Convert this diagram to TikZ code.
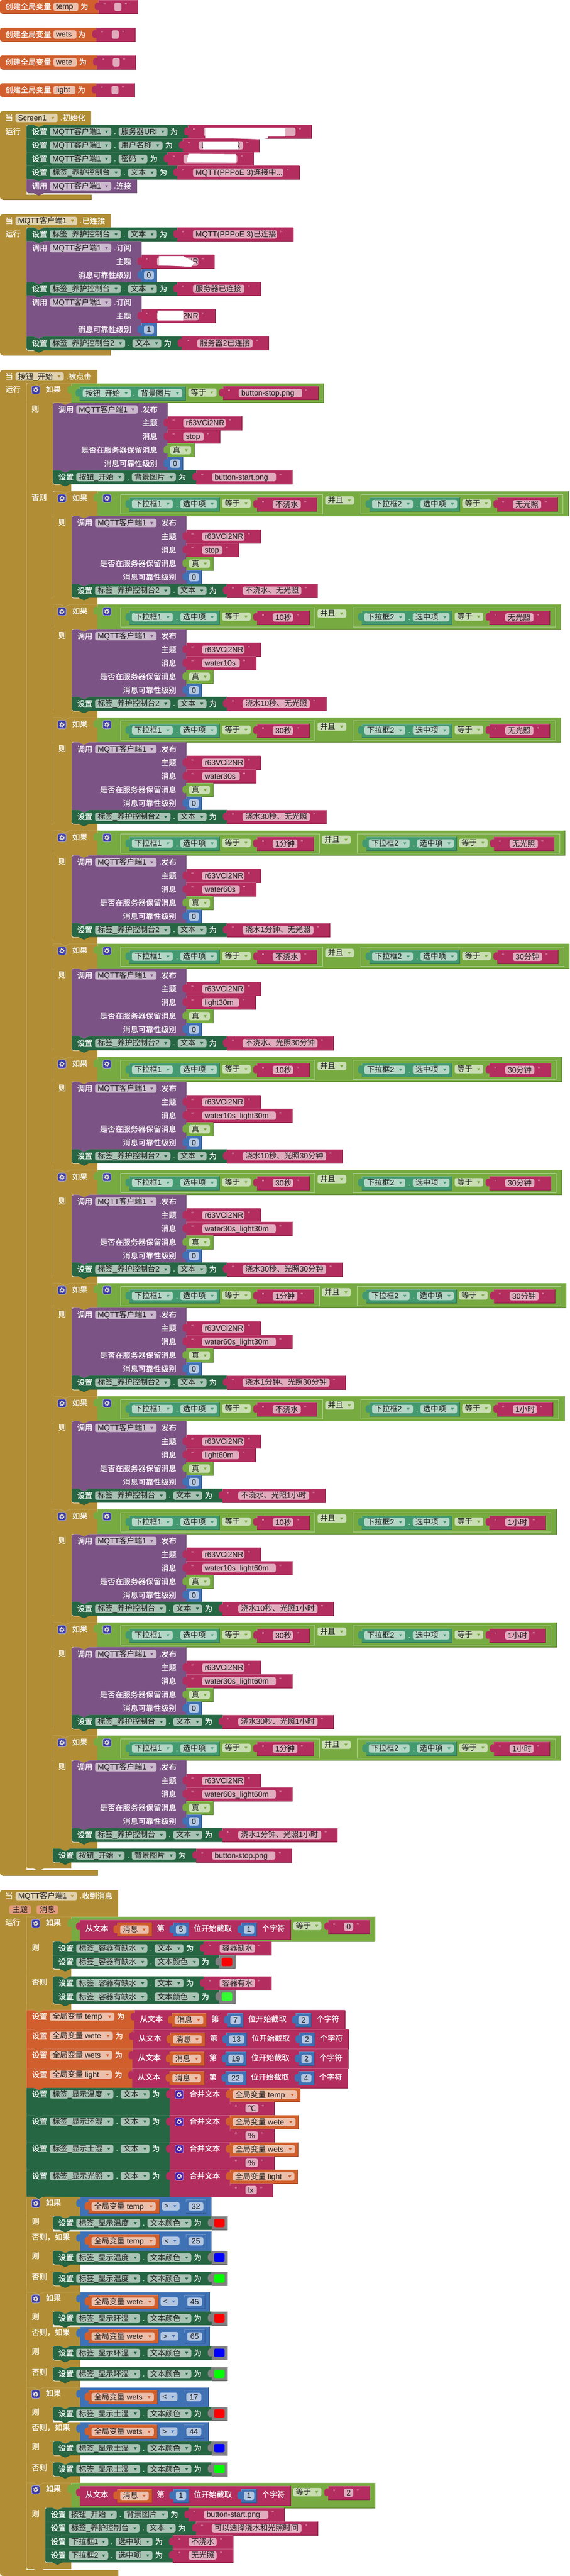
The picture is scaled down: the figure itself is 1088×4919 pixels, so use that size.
\documentclass[tikz,border=0pt]{standalone}
\usepackage{fontspec}
\setmainfont{Liberation Sans}
\newfontfamily\cjkf{Noto Sans CJK SC}
\newfontfamily\cjkb{Noto Sans CJK SC}[FakeBold=0.4]
\XeTeXinterchartokenstate=1
\newXeTeXintercharclass\cjkc
\newcount\cc
\def\setrange#1#2{\cc=#1\loop\XeTeXcharclass\cc=\cjkc\ifnum\cc<#2\advance\cc by 1\repeat}
\setrange{"3000}{"30FF}\setrange{"4E00}{"9FFF}\setrange{"FF00}{"FFEF}\setrange{"2103}{"2103}
\XeTeXinterchartoks 0 \cjkc={\begingroup\cjkf}
\XeTeXinterchartoks 4095 \cjkc={\begingroup\cjkf}
\XeTeXinterchartoks \cjkc 0={\endgroup}
\XeTeXinterchartoks \cjkc 4095={\endgroup}
\definecolor{cset}{HTML}{266643}
\definecolor{cproc}{HTML}{7C5385}
\definecolor{cstr}{HTML}{B32D5E}
\definecolor{cgold}{HTML}{B18E35}
\definecolor{clogic}{HTML}{77AB41}
\definecolor{cmath}{HTML}{3F71B5}
\definecolor{cget}{HTML}{439970}
\definecolor{cvar}{HTML}{D05F2D}
\definecolor{cgray}{HTML}{808080}
\definecolor{txc}{HTML}{1A1A1A}
\definecolor{gearA}{HTML}{3A3AA8}
\definecolor{gearB}{HTML}{4A1DB0}
\definecolor{gearc}{HTML}{E4E0C8}
\definecolor{swr}{HTML}{FF0000}
\definecolor{swb}{HTML}{0000FF}
\definecolor{swg}{HTML}{00FF00}
\definecolor{swl}{HTML}{33FF33}
\tikzset{
  tx/.style={inner sep=0pt,outer sep=0pt,font=\fontsize{14.6pt}{16pt}\selectfont},
  qt/.style={inner sep=0pt,outer sep=0pt,font=\fontsize{12pt}{13pt}\selectfont},
  ew/.style={line width=0.5pt},
  fieldbox/.style={rounded corners=3.5pt}
}
\newcount\tn
\newcommand\txt[4]{\global\advance\tn by 1\relax\node[tx,text=#1,anchor=base west] (t\the\tn) at (#2,#3) {#4};}
\newcommand\Lab[3]{\txt{white}{#1}{#2+5}{\let\cjkf\cjkb #3}}
\newcommand\Rlab[3]{\global\advance\tn by 1\relax\node[tx,text=white,anchor=base east] (t\the\tn) at (#1,#2+5) {\let\cjkf\cjkb #3};}
\newcommand\Ctr[3]{\global\advance\tn by 1\relax\node[tx,text=txc,anchor=base] (t\the\tn) at (#1,#2+5) {#3};}
% x y w h col flag
\newcommand\stmt[6]{%
 \pgfmathsetmacro\sR{#1+#3}\pgfmathsetmacro\sBt{#2+#4}%
 \ifodd#6\relax\def\sTL{(#1,#2+4) .. controls +(0,-2.2) and +(-2.2,0) .. ++(4,-4) -- ++(10,0)}\fill[cgold] (#1+14,#2-0.5) -- ++(19,0) -- ++(-9.5,5.5) -- cycle;\else\def\sTL{(#1,#2) -- ++(14,0)}\fi
 \ifnum#6>1\relax\def\sBL{-- (#1+4,\sBt) .. controls +(-2.2,0) and +(0,2.2) .. ++(-4,-4)}\else\def\sBL{-- (#1,\sBt)}\fi
 \fill[#5] \sTL -- ++(9.5,4.5) -- ++(9.5,-4.5) -- (\sR,#2) -- (\sR,\sBt) -- (#1+33,\sBt) -- ++(-9.5,4.5) -- ++(-9.5,-4.5) \sBL -- cycle;
 \draw[#5!75!white,ew] \sTL -- ++(9.5,4.5) -- ++(9.5,-4.5) -- (\sR,#2);
 \draw[#5!75!white,ew] (#1,#2+4) -- (#1,\sBt-4);
 \draw[#5!75!black,ew] (\sR,#2) -- (\sR,\sBt) -- (#1+33,\sBt) -- ++(-9.5,4.5) -- ++(-9.5,-4.5) \sBL;
 \ifnum#6>1\relax\draw[white!75!cgold,line width=1pt] (#1,\sBt-3) .. controls +(0,2) and +(-2,0) .. ++(4,4) -- ++(10,0);\fi
}
\newcommand\gold[5]{%
 \pgfmathsetmacro\sR{#1+#3}\pgfmathsetmacro\sBt{#2+#4}%
 \ifodd#5\relax\def\sTL{(#1,#2+4) .. controls +(0,-2.2) and +(-2.2,0) .. ++(4,-4) -- ++(10,0)}\fill[cgold] (#1+14,#2-0.5) -- ++(19,0) -- ++(-9.5,5.5) -- cycle;\else\def\sTL{(#1,#2) -- ++(14,0)}\fi
 \ifnum#5>1\relax\def\sBL{-- (#1+4,\sBt) .. controls +(-2.2,0) and +(0,2.2) .. ++(-4,-4)}\else\def\sBL{-- (#1,\sBt)}\fi
 \fill[cgold] \sTL -- ++(9.5,4.5) -- ++(9.5,-4.5) -- (\sR,#2) -- (\sR,\sBt) -- (#1+33,\sBt) -- ++(-9.5,4.5) -- ++(-9.5,-4.5) \sBL -- cycle;
 \draw[cgold!70!white,ew] (#1,#2+3) -- (#1,\sBt-3);
 \draw[cgold!70!white,ew] \sTL -- ++(9.5,4.5) -- ++(9.5,-4.5) -- (\sR,#2);
}
% bar: no notch; x y w h flag(2=rounded bottom)
\newcommand\goldbar[5]{%
 \pgfmathsetmacro\sR{#1+#3}\pgfmathsetmacro\sBt{#2+#4}%
 \ifnum#5>1\relax\def\sBL{-- (#1+4,\sBt) .. controls +(-2.2,0) and +(0,2.2) .. ++(-4,-4)}\else\def\sBL{-- (#1,\sBt)}\fi
 \fill[cgold] (#1,#2) -- (\sR,#2) -- (\sR,\sBt) -- (#1+33,\sBt) -- ++(-9.5,4.5) -- ++(-9.5,-4.5) \sBL -- cycle;
 \ifnum#5>1\relax\draw[white!75!cgold,line width=1pt] (#1,\sBt-3) .. controls +(0,2) and +(-2,0) .. ++(4,4) -- ++(10,0);\fi
}
\newcommand\hatblock[5]{% ytop ybody yfoot yend w
 \fill[cgold] (0,#1+5) .. controls +(0,-2.7) and +(-2.7,0) .. ++(5,-5) -- (#5,#1) -- (#5,#2) -- (50.5,#2) -- (50.5,#3) -- (#5,#3) -- (#5,#4) -- (5,#4) .. controls +(-2.7,0) and +(0,2.7) .. ++(-5,-5) -- cycle;
 \draw[cgold!75!black,ew] (#5,#3) -- (#5,#4) -- (5,#4);
}
\newcommand\val[5]{%
 \pgfmathsetmacro\vR{#1+#3}\pgfmathsetmacro\vB{#2+#4}%
 \fill[#5] (#1,#2+5) .. controls +(-2.5,-1.5) and +(0,-7) .. ++(-7.5,7) .. controls +(0,7) and +(-4.5,1.5) .. ++(7.5,7) -- (#1,\vB) -- (\vR,\vB) -- (\vR,#2) -- (#1,#2) -- cycle;
 \draw[#5!75!white,ew] (#1,#2) -- (\vR,#2);
 \draw[#5!75!white,ew] (#1,#2) -- (#1,#2+5);
 \draw[#5!75!black,ew] (\vR,#2) -- (\vR,\vB) -- (#1,\vB);
}
% x cy w col text
\newcommand\fld[5]{%
 \fill[#4!40!white,fieldbox] (#1,#2-8) rectangle ++(#3,16);
 \txt{txc}{#1+5}{#2+5}{#5}%
 \fill[#4] (#1+#3-12,#2-2) -- ++(6,0) -- ++(-3,4.5) -- cycle;
}
\newcommand\fldn[5]{%
 \fill[#4!40!white,fieldbox] (#1,#2-8) rectangle ++(#3,16);
 \txt{txc}{#1+5}{#2+5}{#5}%
}
\newcommand\gear[3]{%
 \filldraw[fill=#3,draw=#3!45!white,line width=1pt,rounded corners=3pt] (#1-7.8,#2-7.8) rectangle ++(15.6,15.6);
 \draw[gearc,line width=1.6pt] (#1,#2) circle (3pt);
 \draw[gearc,line width=1.6pt,dash pattern=on 1.8pt off 1.73pt] (#1,#2) circle (4.5pt);
}
% m y fieldw text
\newcommand\strv[4]{%
 \pgfmathsetmacro\qE{#3+61}%
 \val{#1}{#2}{\qE}{26}{cstr}%
 \fill[cstr!40!white,fieldbox] (#1+30,#2+5) rectangle ++(#3,16);
 \txt{txc}{#1+35}{#2+18}{#4}%
 \global\advance\tn by 1\relax\node[qt,text=cstr!30!white,anchor=base west] (t\the\tn) at (#1+9.5,#2+15) {“};
 \global\advance\tn by 1\relax\node[qt,text=cstr!30!white,anchor=base west] (t\the\tn) at (#1+36.5+#3,#2+15) {”};
}
% m y w text
\newcommand\numv[4]{%
 \val{#1}{#2}{#3}{26}{cmath}%
 \fill[cmath!40!white,fieldbox] (#1+5,#2+5) rectangle ++(#3-10,16);
 \Ctr{#1+#3/2}{#2+13}{#4}%
}
\newcommand\truev[2]{\val{#1}{#2}{51}{26}{clogic}\fld{#1+5}{#2+13}{40}{clogic}{真}}
\newcommand\colv[3]{%
 \val{#1}{#2}{30}{26}{cgray}%
 \fill[#3,rounded corners=3pt] (#1+4.5,#2+4.7) rectangle ++(20,16);
}
% x y w fieldw text
\newcommand\getv[5]{\val{#1}{#2}{#3}{26}{cvar}\fld{#1+5.5}{#2+13}{#4}{cvar}{#5}}
% x y h w1 t1 w2 t2 flag
\newcommand\setrow[8]{%
 \pgfmathsetmacro\mx{#1+#4+#6+97.5}%
 \ifdim#3pt>30pt\pgfmathsetmacro\cy{#2+12.3}\else\pgfmathsetmacro\cy{#2+13}\fi
 \stmt{#1}{#2}{\mx-#1}{#3}{cset}{#8}%
 \Lab{#1+10.5}{\cy}{设置}%
 \fld{#1+44.5}{\cy}{#4}{cset}{#5}%
 \Lab{#1+49.5+#4}{\cy}{.}%
 \fld{#1+58.5+#4}{\cy}{#6}{cset}{#7}%
 \Lab{#1+63.5+#4+#6}{\cy}{为}%
}
% x y h w1 t1 flag
\newcommand\setg[6]{%
 \pgfmathsetmacro\mx{#1+#4+83}%
 \pgfmathsetmacro\cy{#2+12}%
 \stmt{#1}{#2}{\mx-#1}{#3}{cvar}{#6}%
 \Lab{#1+10.5}{\cy}{设置}%
 \fld{#1+44.5}{\cy}{#4}{cvar}{#5}%
 \Lab{#1+49.5+#4}{\cy}{为}%
}
% x y msgw msg flag
\newcommand\pub[5]{%
 \pgfmathsetmacro\pR{#1+219}\pgfmathsetmacro\pT{#1+200}%
 \stmt{#1}{#2}{219}{129.25}{cproc}{#5}%
 \Lab{#1+10.5}{#2+13}{调用}%
 \fld{#1+44.5}{#2+13}{117.5}{cproc}{MQTT客户端1}%
 \Lab{#1+167}{#2+13}{.}\Lab{#1+171}{#2+13}{发布}%
 \Rlab{\pT}{#2+38.85}{主题}\strv{\pR}{#2+25.85}{81}{r63VCi2NR}%
 \Rlab{\pT}{#2+64.7}{消息}\strv{\pR}{#2+51.7}{#3}{#4}%
 \Rlab{\pT}{#2+90.55}{是否在服务器保留消息}\truev{\pR}{#2+77.55}%
 \Rlab{\pT}{#2+116.4}{消息可靠性级别}\numv{\pR}{#2+103.4}{29}{0}%
}
% y text-of-qos
\newcommand\subsc[4]{% x y qos flag
 \pgfmathsetmacro\pR{#1+219.5}\pgfmathsetmacro\pT{#1+200.5}%
 \stmt{#1}{#2}{219.5}{78}{cproc}{#4}%
 \Lab{#1+10.5}{#2+13}{调用}%
 \fld{#1+44.5}{#2+13}{117.5}{cproc}{MQTT客户端1}%
 \Lab{#1+167}{#2+13}{.}\Lab{#1+171.5}{#2+13}{订阅}%
 \Rlab{\pT}{#2+39}{主题}%
 \Rlab{\pT}{#2+65}{消息可靠性级别}\numv{\pR}{#2+52}{29}{#3}%
}
% L yr k w s
\newcommand\eqbl[5]{%
 \pgfmathsetmacro\eqE{#1+332.7+#4}%
 \pgfmathsetmacro\eW{332.7+#4}%
 \val{#1}{#2+6}{\eW}{37.5}{clogic}%
 \draw[clogic!55!white,ew] (#1,#2+6) rectangle ++(\eW,37.5);
 \val{#1+17}{#2+12}{172.5}{26}{cget}%
 \fld{#1+22}{#2+24.5}{78}{cget}{下拉框#3}%
 \Lab{#1+106}{#2+25}{.}%
 \fld{#1+114.4}{#2+24.5}{70}{cget}{选中项}%
 \fld{#1+194.3}{#2+23.5}{54.7}{clogic}{等于}%
 \strv{#1+261}{#2+12}{#4}{#5}%
}
% yr wa sa wb sb mw ms tw ; uses \bfl, \cw, \ct, \bT
\newcommand\branch[8]{%
 \gold{101}{#1}{36}{216}{\bfl}%
 \gold{101}{#1}{85}{47.7}{\bfl}%
 \goldbar{101}{#1+203.2}{85}{12.8}{0}%
 \gear{118.3}{#1+13.7}{gearA}%
 \Lab{138}{#1+13}{如果}%
 \Lab{111.7}{#1+59.7}{则}%
 \pgfmathsetmacro\bL{230+332.7+#2}%
 \pgfmathsetmacro\bM{\bL+5}\pgfmathsetmacro\bN{\bM+67.6}%
 \pgfmathsetmacro\bEnd{\bN+332.7+#4+10.5}\pgfmathsetmacro\bW{\bEnd-186}%
 \val{186}{#1}{\bW}{47.7}{clogic}%
 \gear{204.3}{#1+13.7}{gearA}%
 \eqbl{230}{#1}{1}{#2}{#3}%
 \fld{\bM}{#1+17.7}{55}{clogic}{并且}%
 \eqbl{\bN}{#1}{2}{#4}{#5}%
 \pub{137}{#1+47.7}{#6}{#7}{1}%
 \setrow{137}{#1+176.95}{26.25}{\cw}{\ct}{55}{文本}{2}%
 \edef\bmm{\mx}\edef\byy{#1+176.95}%
 \strv{\bmm}{\byy}{#8}{\bT}%
}
% m y w1 t1
\newcommand\subs[4]{%
 \pgfmathsetmacro\rR{#1+178.3+#3}\pgfmathsetmacro\rE{#3+372.8}%
 \val{#1}{#2}{\rE}{37}{cstr}%
 \Lab{#1+10.3}{#2+16.7}{从文本}%
 \getv{#1+71.3}{#2+5.7}{66.4}{54.6}{消息}%
 \Lab{#1+147}{#2+16.7}{第}%
 \numv{#1+178.3}{#2+5.7}{#3}{#4}%
 \Lab{\rR+9.5}{#2+16.7}{位开始截取}%
 \Lab{\rR+140}{#2+16.7}{个字符}%
}
\newcommand\subsB[2]{\numv{\rR+100.5}{#2+5.7}{29.5}{#1}}
% y num1 num2 str
\newcommand\condA[4]{%
 \gold{50.5}{#1}{85.5}{47.7}{0}%
 \val{136}{#1}{580}{47.7}{clogic}%
 \gear{68.3}{#1+13.3}{gearA}%
 \Lab{87.3}{#1+11.5}{如果}%
 \subs{152.7}{#1+6}{29.5}{#2}\subsB{#3}{#1+6}%
 \fld{560}{#1+17.7}{54}{clogic}{等于}%
 \strv{627}{#1+6}{17.8}{#4}%
}
% y end getw fieldw var opx op num
\newcommand\cmpc[8]{%
 \pgfmathsetmacro\cW{#2-153}%
 \val{153}{#1}{\cW}{37}{cmath}%
 \getv{169.3}{#1+5.3}{#3}{#4}{全局变量 #5}%
 \fld{#6}{#1+17.7}{34}{cmath}{#7}%
 \numv{#6+46}{#1+5.3}{38.5}{#8}%
}
\newcommand\triple[9]{%
 \gold{50.5}{#1}{50.5}{181.7}{0}%
 \gold{50.5}{#1}{102.5}{37}{0}%
 \goldbar{50.5}{#1+66.3}{102.5}{36.7}{0}%
 \goldbar{50.5}{#1+129}{102.5}{14}{0}%
 \goldbar{50.5}{#1+169}{102.5}{12.7}{0}%
 \gear{68.3}{#1+12.7}{gearA}\Lab{87.3}{#1+11}{如果}%
 \Lab{60.8}{#1+47}{则}\Lab{60.8}{#1+76.7}{否则，如果}%
 \Lab{60.8}{#1+113}{则}\Lab{60.8}{#1+153.3}{否则}%
 \cmpc{#1}{#2}{#3}{#4}{#5}{#6}{#7}{#8}%
 \cmpc{#1+66.3}{#2}{#3}{#4}{#5}{#6}{\opB}{#9}%
 \setrow{101}{#1+37}{26}{122}{\lblT}{84}{文本颜色}{3}\colv{\mx}{#1+37}{swr}%
 \setrow{101}{#1+103}{26}{122}{\lblT}{84}{文本颜色}{3}\colv{\mx}{#1+103}{swb}%
 \setrow{101}{#1+143}{26}{122}{\lblT}{84}{文本颜色}{3}\colv{\mx}{#1+143}{swg}%
}
\newcommand\globalv[4]{% y m fw name
 \fill[cvar] (0,#1+4) .. controls +(0,-2.2) and +(-2.2,0) .. ++(4,-4) -- (#2,#1) -- (#2,#1+26) -- (4,#1+26) .. controls +(-2.2,0) and +(0,2.2) .. ++(-4,-4) -- cycle;
 \draw[cvar!75!black,ew] (4,#1+26) -- (#2,#1+26);
 \Lab{10.3}{#1+13}{创建全局变量}%
 \fldn{102.2}{#1+13}{#3}{cvar}{#4}%
 \Lab{#2-34.4}{#1+13}{为}%
 \strv{#2}{#1}{13.4}{}%
}
\newcommand\joinrow[7]{% y lbl getw fieldw var strw str
 \setrow{50.5}{#1}{52}{121.7}{#2}{55}{文本}{0}%
 \edef\jm{\mx}%
 \val{\jm}{#1}{114.5}{52}{cstr}%
 \gear{\jm+17.7}{#1+12.7}{gearB}%
 \Lab{\jm+37.3}{#1+12}{合并文本}%
 \getv{439}{#1}{#3}{#4}{全局变量 #5}%
 \strv{439}{#1+26}{#6}{#7}%
}
\newcommand\setstr[9]{\setrow{#1}{#2}{#3}{#4}{#5}{#6}{#7}{#8}\strv{\mx}{#2}{#9}{\strT}}
\begin{document}
\begin{tikzpicture}[x=1pt,y=-1pt]
\useasboundingbox (0,0) rectangle (1088,4919);
\fill[white] (0,0) rectangle (1088,4919);
% globals
\globalv{0}{188.4}{47.3}{temp}
\globalv{53}{183.5}{43.8}{wets}
\globalv{106}{185.3}{44.6}{wete}
\globalv{159}{183}{42}{light}
% Screen1
\hatblock{212}{238.6}{371.5}{381.5}{174}
\Lab{10.3}{225.3}{当}\fld{29.5}{225.3}{80.4}{cgold}{Screen1}\Lab{115}{225.3}{.}\Lab{119.6}{225.3}{初始化}
\Lab{10.3}{251}{运行}
\def\strT{}\setstr{50.5}{238.6}{26}{117.5}{MQTT客户端1}{93.7}{服务器URI}{1}{175.4}
\def\strT{L}\setstr{50.5}{264.6}{26}{117.5}{MQTT客户端1}{84}{用户名称}{0}{84.8}
\def\strT{}\setstr{50.5}{290.6}{26}{117.5}{MQTT客户端1}{55}{密码}{0}{102.8}
\def\strT{MQTT(PPPoE 3)连接中...}\setstr{50.5}{316.6}{26}{135.7}{标签\_养护控制台}{55}{文本}{0}{172.3}
\stmt{50.5}{342.6}{211.1}{26}{cproc}{2}
\Lab{61}{355.6}{调用}\fld{95}{355.6}{117.5}{cproc}{MQTT客户端1}\Lab{217.5}{355.6}{.}\Lab{222}{355.6}{连接}
\fill[white] (392,245) -- (545,245) -- (545,260.5) -- (512,260.5) -- (512,264) -- (495,266) -- (440,264) -- (392,264) -- cycle;
\node[tx,text=txc,anchor=base east] (userR) at (459,282.6) {R};
\fill[white] (387.5,270) -- (455,270) -- (455,284.5) -- (387.5,284.5) -- cycle;
\fill[white] (360,293.5) -- (451,294.5) -- (451,310.5) -- (357,309) -- cycle;
% MQTT connected
\hatblock{409}{434.6}{668.6}{678.6}{211.6}
\Lab{10.3}{421.8}{当}\fld{29.5}{421.8}{117.9}{cgold}{MQTT客户端1}\Lab{152}{421.8}{.}\Lab{157}{421.8}{已连接}
\Lab{10.3}{447}{运行}
\def\strT{MQTT(PPPoE 3)已连接}\setstr{50.5}{434.6}{26}{135.7}{标签\_养护控制台}{55}{文本}{1}{160.3}
\subsc{50.5}{460.6}{0}{0}
\val{270}{486.6}{139.4}{26}{cstr}
\fill[cstr!40!white,fieldbox] (300,491.6) rectangle ++(78.6,16);
\txt{txc}{305}{504.6}{r63VCi2NR}
\node[qt,text=cstr!30!white,anchor=base west] (q1a) at (279.5,501.6) {“};
\node[qt,text=cstr!30!white,anchor=base west] (q1b) at (385,501.6) {”};
\fill[white] (303.6,488.8) -- (350,488.8) -- (372,501) -- (365,509.5) -- (303.6,506) -- cycle;
\def\strT{服务器已连接}\setstr{50.5}{538.6}{26}{135.7}{标签\_养护控制台}{55}{文本}{0}{98.2}
\subsc{50.5}{564.6}{1}{0}
\val{270}{590.6}{141.6}{26}{cstr}
\fill[cstr!40!white,fieldbox] (300,595.6) rectangle ++(80,16);
\txt{txc}{305}{608.6}{r63VCi2NR}
\node[qt,text=cstr!30!white,anchor=base west] (q2a) at (279.5,605.6) {“};
\node[qt,text=cstr!30!white,anchor=base west] (q2b) at (386.5,605.6) {”};
\fill[white] (301.3,593.4) -- (350,593.4) -- (350,612) -- (301.3,612) -- cycle;
\def\strT{服务器2已连接}\setstr{50.5}{642.6}{26}{144}{标签\_养护控制台2}{55}{文本}{2}{105.6}
% button click
\hatblock{706.4}{732}{3571}{3581.7}{186}
\Lab{10.3}{719}{当}\fld{29.5}{719}{92.3}{cgold}{按钮\_开始}\Lab{127}{719}{.}\Lab{131}{719}{被点击}
\Lab{10.3}{744}{运行}
\gold{50.5}{732}{50.5}{2836}{1}
\gold{50.5}{732}{85.5}{36.6}{1}
\goldbar{50.5}{923.6}{85.5}{14}{0}
\goldbar{50.5}{3556}{85.5}{12}{2}
\gear{68.4}{744.6}{gearA}
\Lab{87.2}{744}{如果}\Lab{60.2}{781}{则}\Lab{60.2}{950}{否则}
\val{136}{732}{482}{36.6}{clogic}
\val{152}{737.9}{202.6}{26.4}{cget}
\fld{158}{751}{92}{cget}{按钮\_开始}\Lab{254}{751}{.}\fld{264}{751}{84}{cget}{背景图片}
\fld{359.7}{749.5}{54}{clogic}{等于}
\strv{426}{737.5}{121}{button-stop.png}
\pub{101}{769}{39}{stop}{1}
\def\strT{button-start.png}\setstr{101}{898}{26}{92.3}{按钮\_开始}{84.2}{背景图片}{2}{122.4}
% branches
\def\bfl{1}
\def\cw{144}\def\ct{标签\_养护控制台2}
\def\bT{不浇水、无光照}\branch{938}{53.6}{不浇水}{54}{无光照}{39}{stop}{112}
\def\bfl{0}
\def\bT{浇水10秒、无光照}\branch{1154}{38.9}{10秒}{54}{无光照}{72}{water10s}{128.5}
\def\bT{浇水30秒、无光照}\branch{1370}{38.9}{30秒}{54}{无光照}{72}{water30s}{128.5}
\def\bT{浇水1分钟、无光照}\branch{1586}{47.2}{1分钟}{54}{无光照}{72}{water60s}{135.4}
\def\bT{不浇水、光照30分钟}\branch{1802}{53.6}{不浇水}{55.6}{30分钟}{70.8}{light30m}{143}
\def\bT{浇水10秒、光照30分钟}\branch{2018}{38.9}{10秒}{55.6}{30分钟}{141}{water10s\_light30m}{159.7}
\def\bT{浇水30秒、光照30分钟}\branch{2234}{38.9}{30秒}{55.6}{30分钟}{141}{water30s\_light30m}{159.7}
\def\bT{浇水1分钟、光照30分钟}\branch{2450}{47.2}{1分钟}{55.6}{30分钟}{141}{water60s\_light30m}{166}
\def\cw{135.7}\def\ct{标签\_养护控制台}
\def\bT{不浇水、光照1小时}\branch{2666}{53.6}{不浇水}{45.8}{1小时}{70.8}{light60m}{135.4}
\def\bT{浇水10秒、光照1小时}\branch{2882}{38.9}{10秒}{45.8}{1小时}{141}{water10s\_light60m}{151.4}
\def\bT{浇水30秒、光照1小时}\branch{3098}{38.9}{30秒}{45.8}{1小时}{141}{water30s\_light60m}{151.4}
\def\bT{浇水1分钟、光照1小时}\branch{3314}{47.2}{1分钟}{45.8}{1小时}{141}{water60s\_light60m}{158.4}
\def\strT{button-stop.png}\setstr{101}{3530}{26}{92.3}{按钮\_开始}{84.2}{背景图片}{2}{121}
% message received
\hatblock{3609}{3660}{4908}{4919}{225.6}
\Lab{10}{3620.7}{当}\fld{29.8}{3620.7}{117.2}{cgold}{MQTT客户端1}\Lab{152}{3620.7}{.}\Lab{156.7}{3620.7}{收到消息}
\fill[cvar!62!white,rounded corners=3.5pt] (17.8,3638) rectangle ++(41.2,17.3);
\fill[cvar!62!white,rounded corners=3.5pt] (70,3638) rectangle ++(40.8,17.3);
\txt{txc}{23.8}{3651.5}{主题}\txt{txc}{76}{3651.5}{消息}
\Lab{10}{3670.7}{运行}
\gold{50.5}{3660}{50.5}{178.7}{1}
\condA{3660}{5}{1}{0}
\goldbar{50.5}{3760}{85.5}{14}{0}
\goldbar{50.5}{3826}{85.5}{12.7}{0}
\Lab{60.8}{3719}{则}\Lab{60.8}{3785}{否则}
\def\strT{容器缺水}\setstr{101}{3707.7}{26}{136}{标签\_容器有缺水}{55}{文本}{1}{67.7}
\setrow{101}{3733.7}{26}{136}{标签\_容器有缺水}{84.5}{文本颜色}{2}\colv{\mx}{3733.7}{swr}
\def\strT{容器有水}\setstr{101}{3774}{26}{136}{标签\_容器有缺水}{55}{文本}{1}{67.7}
\setrow{101}{3800}{26}{136}{标签\_容器有缺水}{84.5}{文本颜色}{2}\colv{\mx}{3800}{swl}
% global sets
\setg{50.5}{3838.7}{37}{123.4}{全局变量 temp}{0}\edef\gm{\mx}\subs{\gm}{3838.7}{29.5}{7}\subsB{2}{3838.7}
\setg{50.5}{3875.7}{37}{120.5}{全局变量 wete}{0}\edef\gm{\mx}\subs{\gm}{3875.7}{39}{13}\subsB{2}{3875.7}
\setg{50.5}{3912.7}{37}{119.5}{全局变量 wets}{0}\edef\gm{\mx}\subs{\gm}{3912.7}{39}{19}\subsB{2}{3912.7}
\setg{50.5}{3949.7}{37}{119}{全局变量 light}{0}\edef\gm{\mx}\subs{\gm}{3949.7}{39}{22}\subsB{4}{3949.7}
% joins
\joinrow{3987}{标签\_显示温度}{134}{123}{temp}{24.7}{℃}
\joinrow{4039}{标签\_显示环湿}{131}{120}{wete}{24}{\%}
\joinrow{4091}{标签\_显示土湿}{130}{119}{wets}{24}{\%}
\joinrow{4143}{标签\_显示光照}{129}{118}{light}{21.7}{lx}
% triples
\def\lblT{标签\_显示温度}\def\opB{<}
\triple{4195}{403}{134.9}{122.8}{temp}{309}{>}{32}{25}
\def\lblT{标签\_显示环湿}\def\opB{>}
\triple{4377}{400}{132.7}{120.5}{wete}{306.5}{<}{45}{65}
\def\lblT{标签\_显示土湿}\def\opB{>}
\triple{4559}{398.4}{130.7}{119}{wets}{305}{<}{17}{44}
% last if
\gold{50.5}{4741}{35.8}{164.7}{0}
\condA{4741}{1}{1}{2}
\goldbar{50.5}{4893}{85.5}{12.7}{2}
\Lab{60.8}{4800}{则}
\def\strT{button-start.png}\setstr{86.3}{4788.7}{26}{92}{按钮\_开始}{84}{背景图片}{1}{122.8}
\def\strT{可以选择浇水和光照时间}\setstr{86.3}{4814.7}{26}{135.7}{标签\_养护控制台}{55}{文本}{0}{171.6}
\def\strT{不浇水}\setstr{86.3}{4840.7}{26}{76}{下拉框1}{70.6}{选中项}{0}{53.4}
\def\strT{无光照}\setstr{86.3}{4866.7}{26}{76}{下拉框2}{70.6}{选中项}{2}{53.4}
\end{tikzpicture}
\end{document}
